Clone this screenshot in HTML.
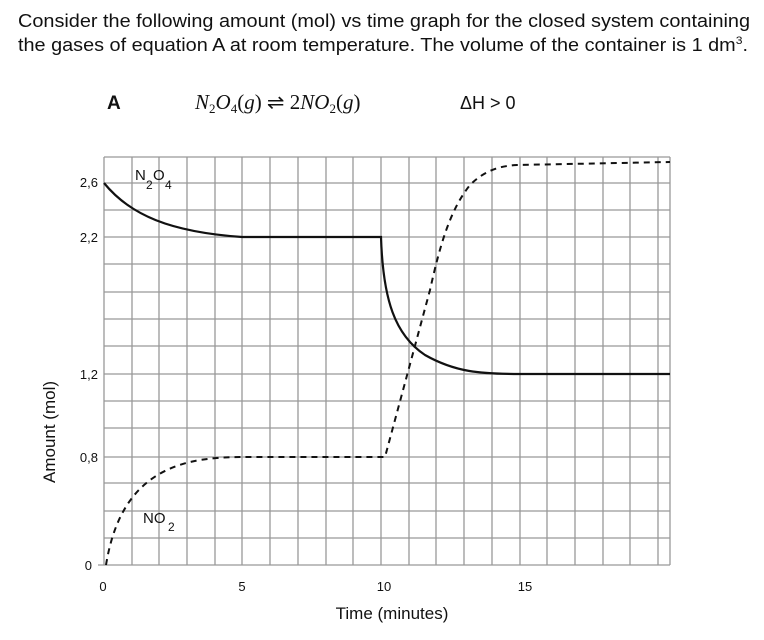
<!DOCTYPE html>
<html><head><meta charset="utf-8"><style>
html,body{margin:0;padding:0;background:#fff;}
svg{display:block;font-family:"Liberation Sans",sans-serif;}
</style></head><body>
<svg width="764" height="640" viewBox="0 0 764 640" xmlns="http://www.w3.org/2000/svg">
<text x="18" y="27" font-size="18" fill="#111" textLength="732" lengthAdjust="spacingAndGlyphs">Consider the following amount (mol) vs time graph for the closed system containing</text>
<text x="18" y="51" font-size="18" fill="#111" textLength="730" lengthAdjust="spacingAndGlyphs">the gases of equation A at room temperature. The volume of the container is 1 dm<tspan font-size="11" dy="-7">3</tspan><tspan dy="7">.</tspan></text>
<text x="107" y="109" font-size="19" font-weight="bold" fill="#111">A</text>
<text x="195" y="109" font-size="21" font-style="italic" font-family="Liberation Serif,serif" fill="#111">N<tspan font-size="13" dy="4" font-style="normal">2</tspan><tspan dy="-4">O</tspan><tspan font-size="13" dy="4" font-style="normal">4</tspan><tspan dy="-4" font-style="normal">(</tspan>g<tspan font-style="normal">) ⇌ 2</tspan>NO<tspan font-size="13" dy="4" font-style="normal">2</tspan><tspan dy="-4" font-style="normal">(</tspan>g<tspan font-style="normal">)</tspan></text>
<text x="460" y="109" font-size="18" fill="#111">ΔH &gt; 0</text>
<g stroke="#999" stroke-width="1.3">
<line x1="104" y1="157" x2="670" y2="157"/><line x1="104" y1="183" x2="670" y2="183"/><line x1="104" y1="210" x2="670" y2="210"/><line x1="104" y1="237" x2="670" y2="237"/><line x1="104" y1="264" x2="670" y2="264"/><line x1="104" y1="292" x2="670" y2="292"/><line x1="104" y1="319" x2="670" y2="319"/><line x1="104" y1="346" x2="670" y2="346"/><line x1="104" y1="374" x2="670" y2="374"/><line x1="104" y1="401" x2="670" y2="401"/><line x1="104" y1="428" x2="670" y2="428"/><line x1="104" y1="457" x2="670" y2="457"/><line x1="104" y1="483" x2="670" y2="483"/><line x1="104" y1="511" x2="670" y2="511"/><line x1="104" y1="538" x2="670" y2="538"/><line x1="98" y1="565" x2="670" y2="565"/>
<line x1="104" y1="157" x2="104" y2="565"/><line x1="132" y1="157" x2="132" y2="565"/><line x1="159" y1="157" x2="159" y2="565"/><line x1="187" y1="157" x2="187" y2="565"/><line x1="215" y1="157" x2="215" y2="565"/><line x1="242" y1="157" x2="242" y2="565"/><line x1="270" y1="157" x2="270" y2="565"/><line x1="298" y1="157" x2="298" y2="565"/><line x1="326" y1="157" x2="326" y2="565"/><line x1="353" y1="157" x2="353" y2="565"/><line x1="381" y1="157" x2="381" y2="565"/><line x1="409" y1="157" x2="409" y2="565"/><line x1="436" y1="157" x2="436" y2="565"/><line x1="464" y1="157" x2="464" y2="565"/><line x1="492" y1="157" x2="492" y2="565"/><line x1="520" y1="157" x2="520" y2="565"/><line x1="547" y1="157" x2="547" y2="565"/><line x1="575" y1="157" x2="575" y2="565"/><line x1="603" y1="157" x2="603" y2="565"/><line x1="630" y1="157" x2="630" y2="565"/><line x1="658" y1="157" x2="658" y2="565"/><line x1="670" y1="157" x2="670" y2="565"/>
</g>
<g font-size="13" fill="#111" text-anchor="end">
<text x="98" y="187">2,6</text><text x="98" y="242">2,2</text><text x="98" y="379">1,2</text><text x="98" y="462">0,8</text><text x="92" y="570">0</text>
</g>
<g font-size="13" fill="#111" text-anchor="middle">
<text x="103" y="591">0</text><text x="242" y="591">5</text><text x="384" y="591">10</text><text x="525" y="591">15</text>
</g>
<text x="392" y="619" font-size="17" fill="#111" text-anchor="middle">Time (minutes)</text>
<text transform="translate(55,432) rotate(-90)" font-size="17" fill="#111" text-anchor="middle">Amount (mol)</text>
<text x="135" y="180" font-size="15" fill="#111">N</text><text x="146" y="189" font-size="12" fill="#111">2</text><text x="153" y="180" font-size="15" fill="#111">O</text><text x="165" y="189" font-size="12" fill="#111">4</text>
<text x="143" y="523" font-size="15" fill="#111">NO</text><text x="168" y="531" font-size="12" fill="#111">2</text>
<path d="M104,183 C130,215 170,232 242,237 L381,237 C383,300 395,335 425,355 C455,372 480,374 520,374 L670,374" fill="none" stroke="#111" stroke-width="2.2"/>
<path d="M106,565 C115,510 140,470 200,460 C220,457 235,457 250,457 L385,457 L430,290 C440,245 450,210 470,185 C485,170 500,166 517,165 L670,162" fill="none" stroke="#111" stroke-width="2" stroke-dasharray="6,5"/>
</svg>
</body></html>
